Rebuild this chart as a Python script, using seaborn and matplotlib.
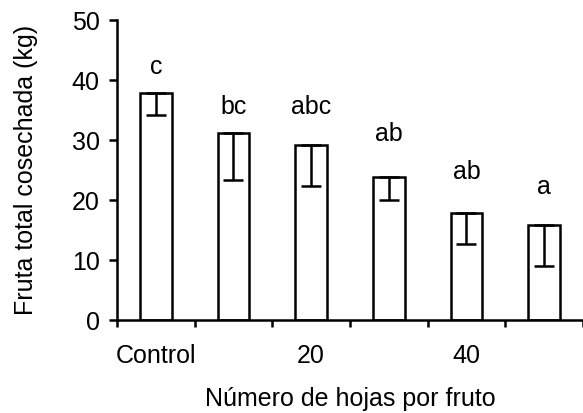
import numpy as np
import pandas as pd
import seaborn as sns
import matplotlib
matplotlib.use("Agg")
import matplotlib.pyplot as plt

# Data
treatments = ['Control', '10', '20', '30', '40', '50']
fruit_kg = [37.9, 31.2, 29.2, 23.9, 17.9, 15.9]
err_low = [3.7, 7.9, 6.9, 3.9, 5.3, 6.9]
letters = ['c', 'bc', 'abc', 'ab', 'ab', 'a']
letter_y = [42.2, 35.5, 35.5, 31.0, 24.7, 22.2]
tick_labels = ['Control', '20', '40']

sns.set_style("white")
plt.rcParams['font.family'] = ['Liberation Sans', 'DejaVu Sans']
plt.rcParams.update({'text.color': 'black', 'axes.labelcolor': 'black',
                     'xtick.color': 'black', 'ytick.color': 'black'})

df = pd.DataFrame({'trat': treatments, 'kg': fruit_kg})

fig = plt.figure(figsize=(5.83, 4.13), dpi=100)
ax = fig.add_axes([117 / 583, 93 / 413, 466 / 583, 300 / 413])

lw = 1.8
sns.barplot(data=df, x='trat', y='kg', color='white', edgecolor='black',
            linewidth=lw, width=0.41, errorbar=None, ax=ax)
for p in ax.patches:
    p.set_facecolor('white')

pos = np.arange(len(treatments))
ax.errorbar(pos, fruit_kg, yerr=[err_low, [0] * len(err_low)], fmt='none',
            ecolor='black', elinewidth=lw, capsize=7.5, capthick=lw)

# significance letters
for x, y, t in zip(pos, letter_y, letters):
    ax.text(x, y, t, ha='center', va='center', fontsize=18, color='black')

ax.set_ylim(0, 50)
ax.set_yticks([0, 10, 20, 30, 40, 50])
ax.set_xlim(-0.5, -0.5 + 466 / 78.6)
ax.set_xticks([0, 2, 4])
ax.set_xticklabels(tick_labels)
ax.set_xticks(np.arange(-0.5, 6, 1.0), minor=True)
ax.tick_params(axis='x', which='major', length=0, pad=17, labelsize=18)
ax.tick_params(axis='x', which='minor', length=5, width=lw, direction='out',
               bottom=True, color='black')
ax.tick_params(axis='y', length=5.5, width=lw, direction='out', left=True,
               pad=7, labelsize=18, color='black')

for s in ['top', 'right']:
    ax.spines[s].set_visible(False)
for s in ['left', 'bottom']:
    ax.spines[s].set_linewidth(lw)
    ax.spines[s].set_color('black')

ax.set_xlabel('Número de hojas por fruto', fontsize=18, labelpad=14)
ax.set_ylabel('Fruta total cosechada (kg)', fontsize=18, labelpad=24)

fig.savefig('out.png', dpi=100)
